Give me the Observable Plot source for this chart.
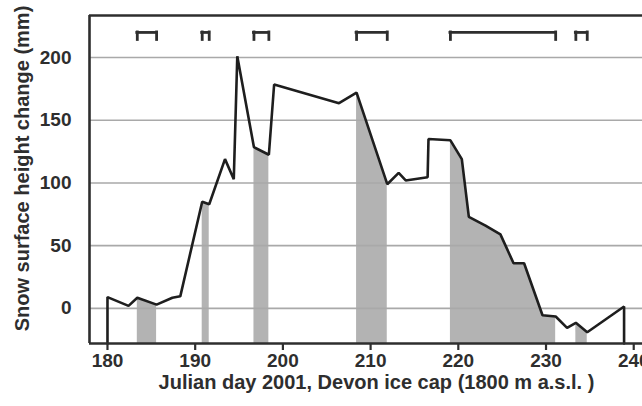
<!DOCTYPE html>
<html>
<head>
<meta charset="utf-8">
<script src="https://cdn.jsdelivr.net/npm/d3@7"></script>
<script src="https://cdn.jsdelivr.net/npm/@observablehq/plot@0.6"></script>
<style>
  html, body { margin: 0; padding: 0; background: #fff; }
</style>
</head>
<body>
<div id="chart"></div>
<script>
// Measurement days (Julian day 2001) and snow surface height change (mm)
const days   = [180, 180, 182.4, 183.4, 185.6, 187.4, 188.3, 190.8, 191.6, 193.4, 194.4, 194.8, 196.7, 198.4, 199.0, 206.4, 208.4, 211.9, 213.2, 214.0, 216.5, 216.6, 219.1, 220.4, 221.2, 223.1, 224.8, 226.3, 227.5, 229.6, 231.1, 232.4, 233.4, 234.7, 238.9, 238.9];
const values = [-28, 9, 2, 8.5, 3, 8.5, 9.6, 85, 83, 119, 103, 201, 128.5, 122.5, 178.5, 163.6, 172, 99, 108, 102, 104.5, 135, 134, 119, 73, 66, 59, 36, 36, -5.5, -6.5, -15.5, -11.5, -19, 1.5, -28];

// Shaded periods (start day, end day), also marked by brackets at the top
const bandStart = [183.4, 190.8, 196.7, 208.4, 219.1, 233.4];
const bandEnd   = [185.6, 191.6, 198.4, 211.9, 231.1, 234.7];

const xTicks = [180, 190, 200, 210, 220, 230, 240];
const yTicks = [0, 50, 100, 150, 200];

const xTitle = "Julian day 2001, Devon ice cap (1800 m a.s.l. )";
const yTitle = "Snow surface height change (mm)";

const xDomain = [177.95, 241];
const yDomain = [-28, 233.5];
const bracketLow = 214, bracketHigh = 220;

const points = days.map((d, i) => ({day: d, value: values[i]}));
const bands = bandStart.map((s, i) => [s, bandEnd[i]]);
const bandRows = bands.flatMap((b, i) =>
  points.filter(p => p.day >= b[0] - 1e-9 && p.day <= b[1] + 1e-9 && p.value > yDomain[0])
        .map(p => ({...p, band: i})));

const ink = "#2e2e2e";

const chart = Plot.plot({
  width: 642,
  height: 406,
  marginLeft: 89,
  marginRight: 0,
  marginTop: 15,
  marginBottom: 63,
  style: {
    fontFamily: "'Liberation Sans', Arial, Helvetica, sans-serif",
    fontWeight: "bold",
    color: ink,
    background: "#fff",
    overflow: "visible"
  },
  x: {domain: xDomain},
  y: {domain: yDomain},
  marks: [
    Plot.areaY(bandRows, {x: "day", y1: yDomain[0], y2: "value", z: "band", fill: "#b3b3b3"}),
    Plot.ruleY(yTicks, {stroke: "#a9a9a9", strokeWidth: 1.6}),
    Plot.line(points, {x: "day", y: "value", stroke: "#1e1e1e", strokeWidth: 2.6, strokeLinejoin: "miter"}),
    Plot.ruleY(bands, {y: bracketHigh, x1: d => d[0], x2: d => d[1], stroke: ink, strokeWidth: 2.8, strokeLinecap: "square"}),
    Plot.ruleX(bands.flatMap(b => b), {x: d => d, y1: bracketLow, y2: bracketHigh, stroke: ink, strokeWidth: 2.8, strokeLinecap: "square"}),
    Plot.ruleX([xDomain[0]], {stroke: ink, strokeWidth: 2.6}),
    Plot.ruleY([yDomain[0], yDomain[1]], {stroke: ink, strokeWidth: 2.6}),
    Plot.axisX({ticks: xTicks, tickSize: 7, tickPadding: 3, fontSize: 19, strokeWidth: 2.2, label: null, tickFormat: d => String(d)}),
    Plot.axisY({ticks: yTicks, tickSize: 0, tickPadding: 18, fontSize: 19, label: null}),
    Plot.text([xTitle], {frameAnchor: "bottom", text: d => d, dx: 10.5, dy: 39, textAnchor: "middle", lineAnchor: "middle", fontSize: 20, fontWeight: "bold"}),
    Plot.text([yTitle], {frameAnchor: "left", text: d => d, rotate: -90, dx: -67, dy: -11, textAnchor: "middle", lineAnchor: "middle", fontSize: 20, fontWeight: "bold"})
  ]
});
document.getElementById("chart").appendChild(chart);
</script>
</body>
</html>
